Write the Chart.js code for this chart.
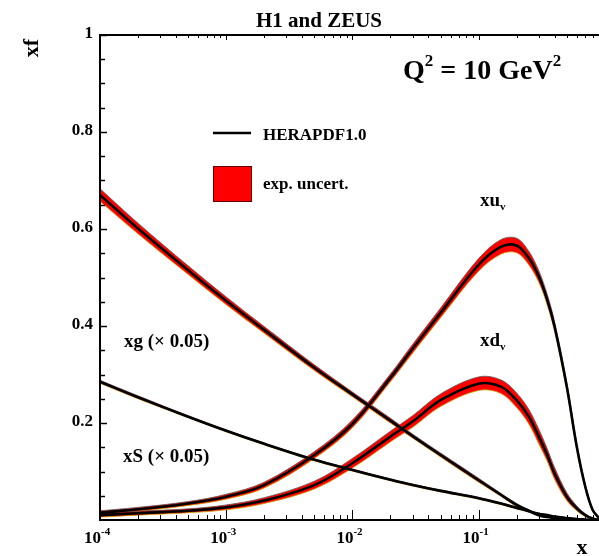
<!DOCTYPE html>
<html>
<head>
<meta charset="utf-8">
<script src="https://cdn.jsdelivr.net/npm/chart.js@4.4.0/dist/chart.umd.min.js"></script>
<style>
  body { margin: 0; background: #fff; }
  canvas { display: block; }
</style>
</head>
<body>
<canvas id="pdfChart" width="599" height="556"></canvas>
<script>
'use strict';

// x grid the curves were read at
const xValues = [1e-4, 2e-4, 5e-4, 1e-3, 2e-3, 5e-3, 1e-2, 2e-2, 3e-2, 5e-2,
                 0.1, 0.15, 0.2, 0.25, 0.3, 0.35, 0.4, 0.5, 0.6, 0.7, 0.8, 0.9];

// central values
const xuv = [0.015, 0.022, 0.034, 0.048, 0.072, 0.134, 0.198, 0.293, 0.353, 0.427,
             0.526, 0.563, 0.566, 0.540, 0.502, 0.454, 0.399, 0.275, 0.151, 0.069, 0.021, 0.004];
const xdv = [0.010, 0.014, 0.019, 0.026, 0.040, 0.072, 0.117, 0.172, 0.203, 0.247,
             0.281, 0.275, 0.247, 0.213, 0.172, 0.134, 0.096, 0.048, 0.024, 0.010, 0.003, 0.000];
const xg  = [0.670, 0.601, 0.515, 0.452, 0.392, 0.314, 0.259, 0.205, 0.173, 0.134,
             0.082, 0.052, 0.031, 0.019, 0.010, 0.006, 0.004, 0.002, 0.001, 0.000, 0.000, 0.000];
const xS  = [0.285, 0.253, 0.213, 0.184, 0.157, 0.124, 0.103, 0.083, 0.072, 0.060,
             0.045, 0.034, 0.025, 0.018, 0.013, 0.010, 0.007, 0.004, 0.002, 0.001, 0.000, 0.000];

// experimental uncertainty (half width of red band)
const xuvErr = [0.004, 0.004, 0.004, 0.005, 0.006, 0.007, 0.008, 0.008, 0.009, 0.010,
                0.013, 0.015, 0.015, 0.014, 0.012, 0.011, 0.010, 0.009, 0.007, 0.005, 0.003, 0.001];
const xdvErr = [0.004, 0.004, 0.004, 0.005, 0.006, 0.008, 0.010, 0.011, 0.012, 0.013,
                0.014, 0.014, 0.015, 0.015, 0.015, 0.013, 0.012, 0.008, 0.005, 0.003, 0.001, 0.000];
const xgErr  = [0.013, 0.011, 0.009, 0.008, 0.007, 0.006, 0.005, 0.005, 0.004, 0.004,
                0.004, 0.003, 0.003, 0.002, 0.002, 0.001, 0.001, 0.001, 0.000, 0.000, 0.000, 0.000];
const xSErr  = [0.003, 0.003, 0.002, 0.002, 0.002, 0.002, 0.002, 0.002, 0.002, 0.002,
                0.002, 0.002, 0.002, 0.001, 0.001, 0.001, 0.001, 0.001, 0.000, 0.000, 0.000, 0.000];

const yMajorTicks = [0.2, 0.4, 0.6, 0.8, 1];
const xDecades = [-4, -3, -2, -1];

const FONT = '"Liberation Serif", "Times New Roman", serif';

function pts(vals, errs, sign) {
  return xValues.map(function (x, i) {
    return { x: x, y: Math.max(0, vals[i] + sign * errs[i]) };
  });
}

const curves = [
  { vals: xS, errs: xSErr },
  { vals: xdv, errs: xdvErr },
  { vals: xuv, errs: xuvErr },
  { vals: xg, errs: xgErr }
];

let datasets = [];
curves.forEach(function (c) {
  let lowIdx = datasets.length;
  datasets.push({
    data: pts(c.vals, c.errs, -1),
    borderColor: '#c8a000', borderWidth: 0.8, pointRadius: 0,
    tension: 0.35, fill: false, order: 2
  });
  datasets.push({
    data: pts(c.vals, c.errs, 1),
    borderColor: '#555', borderWidth: 0.8, pointRadius: 0,
    tension: 0.35, fill: lowIdx,
    backgroundColor: '#ff0000', order: 2
  });
});
curves.forEach(function (c) {
  datasets.push({
    data: pts(c.vals, c.errs, 0),
    borderColor: '#000', borderWidth: 2.6, pointRadius: 0,
    tension: 0.35, fill: false, order: 1
  });
});

const decorations = {
  id: 'decorations',
  afterDraw(chart) {
    const ctx = chart.ctx;
    const xs = chart.scales.x, ys = chart.scales.y;
    const a = chart.chartArea;
    ctx.save();
    ctx.strokeStyle = '#000';
    ctx.fillStyle = '#000';

    // frame
    ctx.lineWidth = 2;
    ctx.beginPath();
    ctx.moveTo(a.right, a.top); ctx.lineTo(a.left, a.top);
    ctx.lineTo(a.left, a.bottom); ctx.lineTo(a.right, a.bottom);
    ctx.stroke();

    // y ticks
    ctx.lineWidth = 1.5;
    for (let v = 0.05; v < 1.0001; v += 0.05) {
      const py = Math.round(ys.getPixelForValue(v)) + 0.5;
      const major = Math.abs(v * 5 - Math.round(v * 5)) < 1e-6;
      ctx.beginPath();
      ctx.moveTo(a.left, py); ctx.lineTo(a.left + (major ? 7 : 5), py);
      ctx.stroke();
    }
    ctx.font = 'bold 17px ' + FONT;
    ctx.textAlign = 'right';
    ctx.textBaseline = 'middle';
    yMajorTicks.forEach(function (v) {
      ctx.fillText(String(v), a.left - 7, ys.getPixelForValue(v) - 1);
    });

    // x ticks
    ctx.lineWidth = 1;
    xDecades.forEach(function (d) {
      for (let m = 1; m <= 9; m++) {
        const v = m * Math.pow(10, d);
        if (v > xs.max) continue;
        const px = Math.round(xs.getPixelForValue(v)) + 0.5;
        const len = m === 1 ? 10 : 5;
        ctx.beginPath();
        ctx.moveTo(px, a.bottom); ctx.lineTo(px, a.bottom - len);
        ctx.moveTo(px, a.top); ctx.lineTo(px, a.top + (m === 1 ? 5 : 3));
        ctx.stroke();
      }
      const px = xs.getPixelForValue(Math.pow(10, d));
      ctx.font = 'bold 17px ' + FONT;
      ctx.textAlign = 'right';
      ctx.textBaseline = 'alphabetic';
      ctx.fillText('10', px + 1, 543);
      ctx.font = 'bold 11px ' + FONT;
      ctx.textAlign = 'left';
      ctx.fillText(String(d), px + 1, 535);
    });

    // titles
    ctx.textBaseline = 'alphabetic';
    ctx.textAlign = 'center';
    ctx.font = 'bold 21px ' + FONT;
    ctx.fillText('H1 and ZEUS', 319, 27);
    ctx.font = 'bold 22px ' + FONT;
    ctx.fillText('x', 582, 554);

    ctx.save();
    ctx.translate(38, 48);
    ctx.rotate(-Math.PI / 2);
    ctx.font = 'bold 22px ' + FONT;
    ctx.fillText('xf', 0, 0);
    ctx.restore();

    // Q^2 label
    ctx.textAlign = 'left';
    ctx.font = 'bold 28px ' + FONT;
    let qx = 403;
    ctx.fillText('Q', qx, 79); qx += ctx.measureText('Q').width;
    ctx.font = 'bold 17px ' + FONT;
    ctx.fillText('2', qx, 66); qx += ctx.measureText('2').width;
    ctx.font = 'bold 28px ' + FONT;
    ctx.fillText(' = 10 GeV', qx, 79); qx += ctx.measureText(' = 10 GeV').width;
    ctx.font = 'bold 17px ' + FONT;
    ctx.fillText('2', qx, 66);

    // legend
    ctx.lineWidth = 2.5;
    ctx.beginPath();
    ctx.moveTo(213, 133); ctx.lineTo(251, 133);
    ctx.stroke();
    ctx.fillStyle = '#ff0000';
    ctx.fillRect(213, 166, 38, 35);
    ctx.lineWidth = 1;
    ctx.strokeStyle = '#600';
    ctx.strokeRect(213.5, 166.5, 38, 35);
    ctx.fillStyle = '#000';
    ctx.font = 'bold 17px ' + FONT;
    ctx.fillText('HERAPDF1.0', 263, 140);
    ctx.fillText('exp. uncert.', 263, 189);

    // curve labels
    function sub(base, s, x, y) {
      ctx.font = 'bold 19px ' + FONT;
      ctx.fillText(base, x, y);
      const w = ctx.measureText(base).width;
      ctx.font = 'bold 11px ' + FONT;
      ctx.fillText(s, x + w, y + 4);
    }
    sub('xu', 'v', 480, 206);
    sub('xd', 'v', 480, 346);
    ctx.font = 'bold 19px ' + FONT;
    ctx.fillText('xg (\u00d7 0.05)', 124, 347);
    ctx.fillText('xS (\u00d7 0.05)', 123, 462);

    ctx.restore();
  }
};

new Chart(document.getElementById('pdfChart').getContext('2d'), {
  type: 'line',
  data: { datasets: datasets },
  options: {
    responsive: false,
    animation: false,
    layout: { padding: { left: 100, right: 0, top: 35, bottom: 36 } },
    plugins: { legend: { display: false }, tooltip: { enabled: false } },
    scales: {
      x: { type: 'logarithmic', min: 1e-4, max: 0.9, display: false },
      y: { type: 'linear', min: 0, max: 1, display: false }
    }
  },
  plugins: [decorations]
});
</script>
</body>
</html>
